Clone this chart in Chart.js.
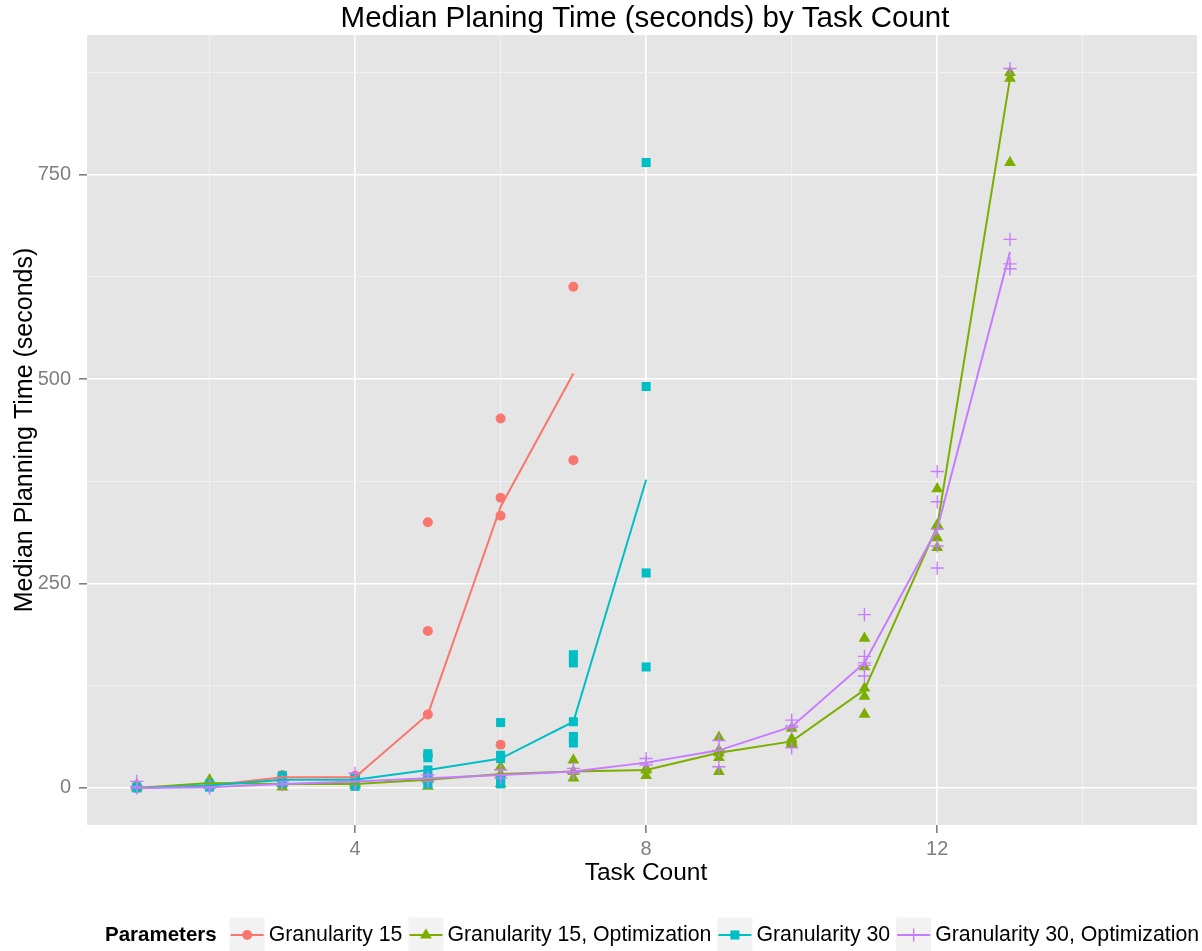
<!DOCTYPE html>
<html><head><meta charset="utf-8">
<script src="https://cdn.jsdelivr.net/npm/chart.js@4/dist/chart.umd.min.js"></script>
<style>html,body{margin:0;padding:0;background:#fff;}#wrap{width:1202px;height:951px;}</style>
</head><body><div id="wrap"><canvas id="c" width="1202" height="951"></canvas></div>
<script>
// ---- text ----
const chartTitle = 'Median Planing Time (seconds) by Task Count';
const xAxisTitle = 'Task Count';
const yAxisTitle = 'Median Planning Time (seconds)';
const legendTitle = 'Parameters';
const seriesNames = ['Granularity 15', 'Granularity 15, Optimization', 'Granularity 30', 'Granularity 30, Optimization'];

// ---- axes ----
const xMajorTicks = [4, 8, 12];
const xMinorTicks = [2, 6, 10, 14];
const yMajorTicks = [0, 250, 500, 750];
const yMinorTicks = [125, 375, 625, 875];
const xRange = [0.316, 15.57];
const yRange = [-45.3, 921];

// ---- medians (line) by task count ----
const taskCounts = [1, 2, 3, 4, 5, 6, 7, 8, 9, 10, 11, 12, 13];
const g15Median = [0, 3, 13, 13, 90, 344, 507];
const g15OptMedian = [0, 6, 5, 5, 10, 17, 20, 22, 43, 57, 120, 320, 868];
const g30Median = [0, 3, 10, 10, 22, 36, 81, 377];
const g30OptMedian = [0, 1, 5, 8, 12, 16, 20, 31, 46, 75, 153, 317, 656];

// ---- individual runs (points) [taskCount, seconds] ----
const g15Runs = [[1,0],[1,1],[1,2],[2,3],[2,2],[2,5],[3,16],[3,13],[3,10],[4,15],[4,13],[4,11],
  [5,325],[5,192],[5,90],[5,40],[5,15],[6,452],[6,355],[6,333],[6,53],[7,613],[7,401]];
const g15OptRuns = [[1,0],[1,2],[1,4],[2,10],[2,6],[2,3],[3,6],[3,5],[3,1],[4,6],[4,5],[4,3],
  [5,12],[5,10],[5,2],[6,26],[6,17],[6,5],[7,34],[7,20],[7,12],[8,24],[8,22],[8,15],
  [9,62],[9,46],[9,43],[9,37],[9,20],[10,73],[10,60],[10,57],[10,55],[10,53],
  [11,183],[11,148],[11,122],[11,112],[11,90],[12,366],[12,322],[12,320],[12,306],[12,294],
  [13,875],[13,868],[13,765]];
const g30Runs = [[1,0],[1,1],[2,3],[2,1],[2,5],[3,15],[3,10],[3,6],[4,12],[4,10],[4,2],
  [5,42],[5,37],[5,22],[5,12],[5,5],[6,80],[6,40],[6,36],[6,10],[6,5],
  [7,163],[7,153],[7,81],[7,63],[7,55],[8,765],[8,491],[8,263],[8,148]];
const g30OptRuns = [[1,0],[1,8],[1,2],[2,1],[2,3],[2,0],[3,5],[3,4],[3,8],[4,18],[4,8],[4,5],
  [5,16],[5,12],[5,8],[6,22],[6,16],[6,12],[7,24],[7,20],[7,18],[8,36],[8,31],[8,28],
  [9,58],[9,46],[9,26],[10,83],[10,76],[10,74],[10,49],
  [11,212],[11,161],[11,153],[11,150],[11,137],[12,387],[12,350],[12,317],[12,296],[12,269],
  [13,880],[13,671],[13,641],[13,635]];

// ---- styling ----
const colors = ['#F8766D', '#7CAE00', '#00BFC4', '#C77CFF'];
const shapes = ['circle', 'triangle', 'rect', 'cross'];
const radii = [5, 6.8, 6.4, 6.6];
const FONT = '"Liberation Sans", Arial, Helvetica, sans-serif';

const medians = [g15Median, g15OptMedian, g30Median, g30OptMedian];
const runs = [g15Runs, g15OptRuns, g30Runs, g30OptRuns];

const lineSets = medians.map((m, i) => ({
  label: seriesNames[i] + ' median',
  data: m.map((v, k) => ({ x: taskCounts[k], y: v })),
  showLine: true, borderColor: colors[i], borderWidth: 2, pointRadius: 0,
  tension: 0, fill: false
}));
const pointSets = runs.map((r, i) => ({
  label: seriesNames[i],
  data: r.map(p => ({ x: p[0], y: p[1] })),
  showLine: false, pointStyle: shapes[i], pointRadius: radii[i],
  backgroundColor: colors[i], borderColor: colors[i],
  borderWidth: shapes[i] === 'cross' ? 1.4 : 0, pointHoverRadius: radii[i]
}));
// Chart.js draws dataset 0 last (on top): lines first, purple on top
const datasets = [3, 2, 1, 0].map(i => lineSets[i]).concat([3, 2, 1, 0].map(i => pointSets[i]));

function drawMarker(ctx, shape, x, y, r, color) {
  ctx.save();
  ctx.fillStyle = color; ctx.strokeStyle = color;
  ctx.beginPath();
  if (shape === 'circle') { ctx.arc(x, y, r, 0, Math.PI * 2); ctx.fill(); }
  else if (shape === 'rect') { const s = r * Math.SQRT1_2; ctx.rect(x - s, y - s, 2 * s, 2 * s); ctx.fill(); }
  else if (shape === 'triangle') {
    for (let k = 0; k < 3; k++) { const a = k * 2 * Math.PI / 3; const px = x + Math.sin(a) * r, py = y - Math.cos(a) * r; k ? ctx.lineTo(px, py) : ctx.moveTo(px, py); }
    ctx.closePath(); ctx.fill();
  } else { ctx.lineWidth = 1.4; ctx.moveTo(x - r, y); ctx.lineTo(x + r, y); ctx.moveTo(x, y - r); ctx.lineTo(x, y + r); ctx.stroke(); }
  ctx.restore();
}

const decor = {
  id: 'decor',
  beforeDraw(chart) {
    const { ctx, chartArea: a } = chart;
    ctx.save(); ctx.fillStyle = '#e5e5e5';
    ctx.fillRect(a.left, a.top, a.right - a.left, a.bottom - a.top); ctx.restore();
  },
  afterDraw(chart) {
    const { ctx } = chart;
    ctx.save();
    ctx.fillStyle = '#000';
    ctx.font = '29.5px ' + FONT; ctx.textAlign = 'center'; ctx.textBaseline = 'alphabetic';
    ctx.fillText(chartTitle, 645, 27);
    ctx.font = '24.5px ' + FONT;
    ctx.fillText(xAxisTitle, 646, 880);
    ctx.font = '25px ' + FONT;
    ctx.save(); ctx.translate(32, 430); ctx.rotate(-Math.PI / 2); ctx.fillText(yAxisTitle, 0, 0); ctx.restore();
    // legend
    const cy = 935;
    ctx.textAlign = 'left'; ctx.textBaseline = 'middle';
    ctx.font = 'bold 20.5px ' + FONT;
    ctx.fillText(legendTitle, 105, cy);
    let x = 105 + ctx.measureText(legendTitle).width + 13;
    ctx.font = '21.3px ' + FONT;
    for (let i = 0; i < 4; i++) {
      ctx.fillStyle = '#f2f2f2';
      ctx.fillRect(x, cy - 17.5, 35, 35);
      ctx.strokeStyle = colors[i]; ctx.lineWidth = 2;
      ctx.beginPath(); ctx.moveTo(x + 1, cy); ctx.lineTo(x + 34, cy); ctx.stroke();
      drawMarker(ctx, shapes[i], x + 17.5, cy, radii[i], colors[i]);
      ctx.fillStyle = '#000';
      ctx.fillText(seriesNames[i], x + 39, cy);
      x = x + 39 + ctx.measureText(seriesNames[i]).width + 6;
    }
    ctx.restore();
  }
};

function gridOpts(major) {
  return {
    color: c => major.includes(c.tick && c.tick.value) ? '#ffffff' : '#f2f2f2',
    lineWidth: c => major.includes(c.tick && c.tick.value) ? 1.6 : 0.9,
    tickColor: c => major.includes(c.tick && c.tick.value) ? '#7f7f7f' : 'rgba(0,0,0,0)',
    tickWidth: 1.6, tickLength: 8, drawTicks: true
  };
}

new Chart(document.getElementById('c'), {
  type: 'scatter',
  data: { datasets },
  plugins: [decor],
  options: {
    responsive: false, animation: false, devicePixelRatio: 1,
    layout: { padding: { top: 35, right: 5, left: 0, bottom: 0 }, autoPadding: false },
    plugins: { legend: { display: false }, title: { display: false }, tooltip: { enabled: false } },
    events: [],
    scales: {
      x: {
        type: 'linear', min: xRange[0], max: xRange[1],
        afterBuildTicks: s => { s.ticks = xMajorTicks.concat(xMinorTicks).sort((a, b) => a - b).map(v => ({ value: v })); },
        afterFit: s => { s.height = 126; },
        grid: gridOpts(xMajorTicks), border: { display: false },
        ticks: { autoSkip: false, maxRotation: 0, padding: 4, color: '#7f7f7f', font: { size: 20, family: FONT },
          callback: v => xMajorTicks.includes(v) ? String(v) : '' }
      },
      y: {
        type: 'linear', min: yRange[0], max: yRange[1],
        afterBuildTicks: s => { s.ticks = yMajorTicks.concat(yMinorTicks).sort((a, b) => a - b).map(v => ({ value: v })); },
        afterFit: s => { s.width = 87; },
        grid: gridOpts(yMajorTicks), border: { display: false },
        ticks: { autoSkip: false, padding: 8, color: '#7f7f7f', font: { size: 20, family: FONT },
          callback: v => yMajorTicks.includes(v) ? String(v) : '' }
      }
    }
  }
});
</script></body></html>
